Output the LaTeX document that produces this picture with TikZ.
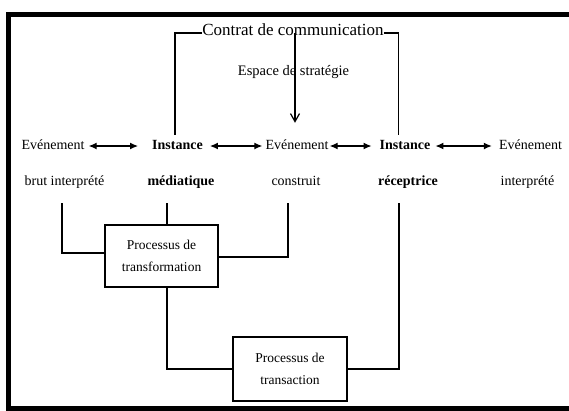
\documentclass[tikz,border=0pt]{standalone}
\usepackage{fontspec}
\setmainfont{Liberation Serif}
\usetikzlibrary{arrows.meta}
\begin{document}
\begin{tikzpicture}[x=1pt,y=-1pt,
  lbl/.style={inner sep=0pt, text height=10pt, text depth=3pt, font=\fontsize{14}{16}\selectfont},
  blbl/.style={lbl, font=\fontsize{14}{16}\selectfont\bfseries},
  ctitle/.style={inner sep=0pt, font=\fontsize{17}{20}\selectfont},
  esp/.style={inner sep=0pt, font=\fontsize{14.5}{17}\selectfont},
  proc/.style={draw, line width=1.4pt, minimum width=113pt, minimum height=62pt, align=center, inner sep=0pt, font=\fontsize{13.5}{22}\selectfont},
  conn/.style={line width=1.2pt},
  dbl/.style={conn, {Latex[length=8pt,width=7pt]}-{Latex[length=8pt,width=7pt]}},
  frame/.style={line width=5pt},
]
\useasboundingbox (0,0) rectangle (569,410);
% outer frame
\draw[frame] (569,14.5) -- (8,14.5) -- (8,408) -- (569,408);

% title and strategy
\node[ctitle] (ct) at (293,30) {Contrat de communication};
\node[esp] (es) at (293.5,72) {Espace de stratégie};

% row 1
\node[lbl]  (ev1)   at (53,146)    {Evénement};
\node[blbl] (inst1) at (177.5,146) {Instance};
\node[lbl]  (ev2)   at (297,146)   {Evénement};
\node[blbl] (inst2) at (405,146)   {Instance};
\node[lbl]  (ev3)   at (530.5,146) {Evénement};

% row 2
\node[lbl]  (bi)  at (64.5,182) {brut interprété};
\node[blbl] (med) at (181,182)  {médiatique};
\node[lbl]  (con) at (296,182)  {construit};
\node[blbl] (rec) at (408,182)  {réceptrice};
\node[lbl]  (int) at (527.5,182){interprété};

% process boxes
\node[proc] (p1) at (161.5,256) {Processus de\\transformation};
\node[proc, minimum width=114pt, minimum height=64pt] (p2) at (290,369) {Processus de\\transaction};

% double arrows
\draw[dbl, shorten <=4pt, shorten >=14pt] (ev1.east) -- (inst1.west);
\draw[dbl, shorten <=7pt, shorten >=3pt] (inst1.east) -- (ev2.west);
\draw[dbl, shorten <=1pt, shorten >=8pt] (ev2.east) -- (inst2.west);
\draw[dbl, shorten <=5pt, shorten >=7pt] (inst2.east) -- (ev3.west);

% contract brackets
\draw[conn] ([yshift=-3pt]ct.west) -| ([xshift=-2.5pt,yshift=4.5pt]inst1.north);
\draw[conn] ([yshift=-3pt]ct.east) -| ([xshift=-6.5pt,yshift=4.5pt]inst2.north);
% strategy arrow
\draw[conn, -{Straight Barb[length=8pt,width=9pt]}] ([xshift=2pt,yshift=-3pt]ct.center) -- ([xshift=-2pt,yshift=16.5pt]ev2.north);

% connections to process boxes
\draw[conn] ([xshift=-2.5pt,yshift=-14.5pt]bi.south) |- ([yshift=3pt]p1.west);
\draw[conn] ([xshift=-14pt,yshift=-14.5pt]med.south) -- ([xshift=5.5pt]p1.north);
\draw[conn] ([xshift=-8pt,yshift=-14.5pt]con.south) |- ([yshift=-1pt]p1.east);
\draw[conn] ([xshift=5.5pt]p1.south) |- (p2.west);
\draw[conn] (p2.east) -| ([xshift=-9pt,yshift=-14.5pt]rec.south);
\end{tikzpicture}
\end{document}
